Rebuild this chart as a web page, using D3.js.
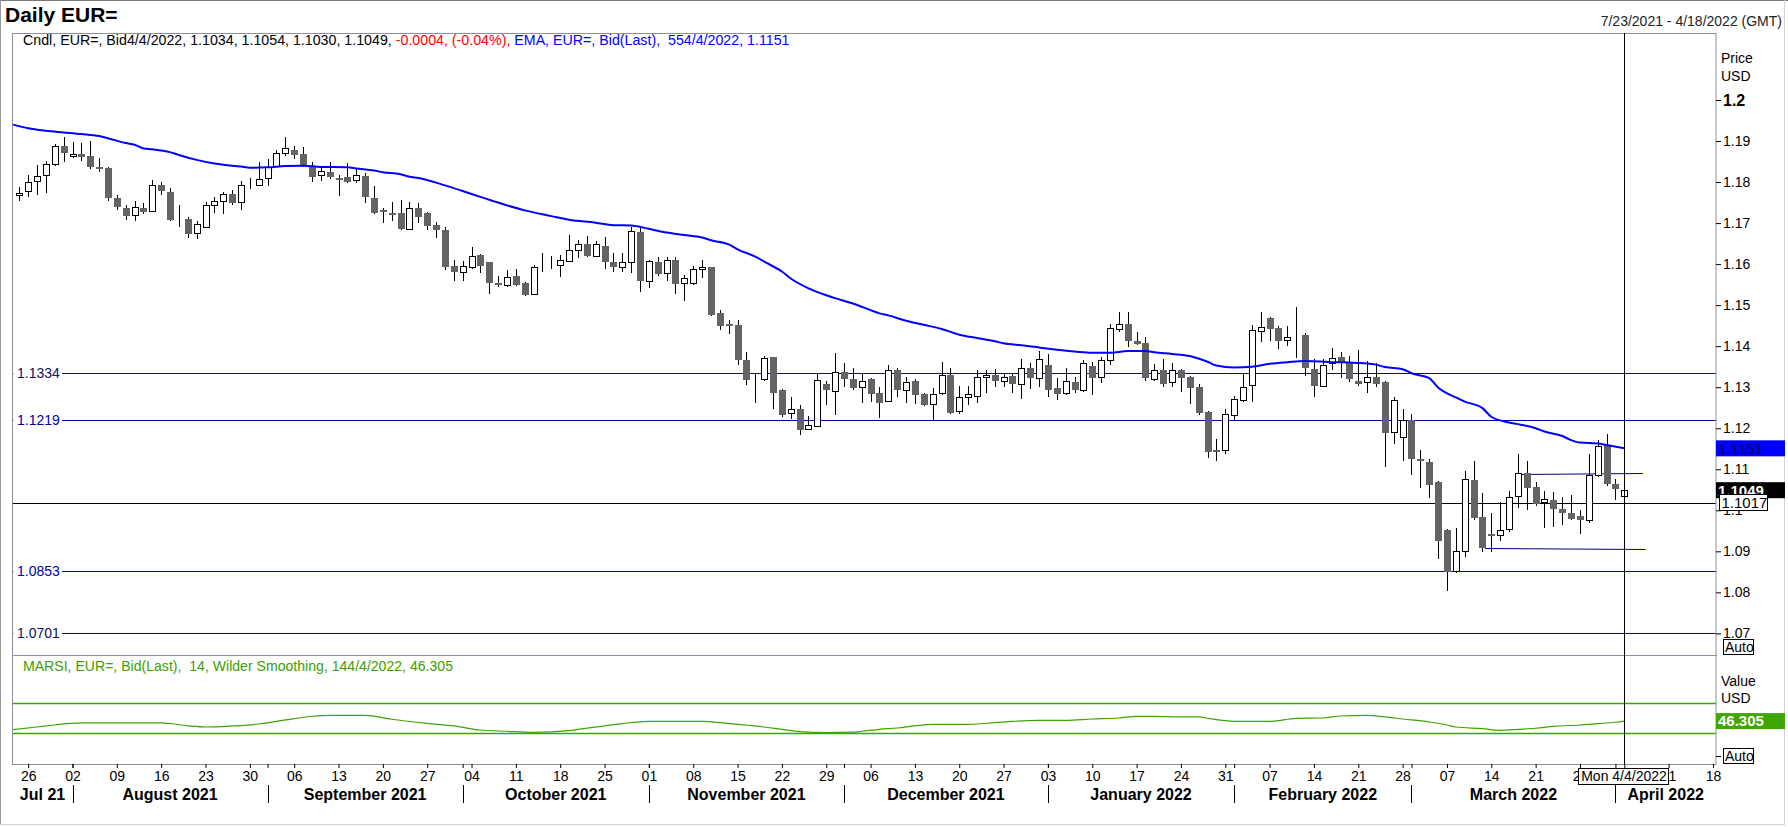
<!DOCTYPE html>
<html>
<head>
<meta charset="utf-8">
<script src="https://cdn.jsdelivr.net/npm/d3@7"></script>
<style>
  body { margin: 0; background: #fff; }
  text { font-family: "Liberation Sans", Arial, sans-serif; }
</style>
</head>
<body>
<div id="chart"></div>
<script>
// daily candles, EUR= bid, 23 Jul 2021 .. 4 Apr 2022 (one per weekday)
var opens = [
  1.1768,1.1778,1.1802,1.1816,1.1843,1.1888,1.1863,1.1868,1.1864,1.1836,
  1.1834,1.1760,1.1737,1.1719,1.1737,1.1729,1.1793,1.1776,1.1711,1.1710,
  1.1675,1.1691,1.1743,1.1754,1.1771,1.1751,1.1794,1.1794,1.1809,1.1839,
  1.1872,1.1878,1.1868,1.1836,1.1816,1.1825,1.1811,1.1812,1.1804,1.1815,
  1.1760,1.1732,1.1725,1.1725,1.1685,1.1737,1.1725,1.1695,1.1683,1.1595,
  1.1580,1.1592,1.1622,1.1604,1.1554,1.1548,1.1571,1.1554,1.1526,1.1593,
  1.1600,1.1597,1.1608,1.1634,1.1649,1.1621,1.1644,1.1606,1.1594,1.1604,
  1.1679,1.1558,1.1606,1.1578,1.1610,1.1553,1.1553,1.1587,1.1593,1.1481,
  1.1454,1.1452,1.1366,1.1319,1.1319,1.1373,1.1293,1.1236,1.1247,1.1197,
  1.1206,1.1309,1.1290,1.1337,1.1320,1.1300,1.1320,1.1286,1.1266,1.1342,
  1.1292,1.1315,1.1283,1.1258,1.1285,1.1329,1.1241,1.1275,1.1278,1.1324,
  1.1329,1.1316,1.1327,1.1309,1.1348,1.1322,1.1354,1.1298,1.1285,1.1313,
  1.1292,1.1351,1.1324,1.1366,1.1441,1.1454,1.1413,1.1407,1.1319,1.1341,
  1.1313,1.1341,1.1324,1.1300,1.1239,1.1146,1.1146,1.1232,1.1268,1.1305,
  1.1436,1.1469,1.1444,1.1414,1.1427,1.1427,1.1344,1.1304,1.1358,1.1373,
  1.1358,1.1315,1.1312,1.1324,1.1313,1.1190,1.1178,1.1220,1.1124,1.1118,
  1.1069,1.0952,1.0853,1.0900,1.1074,1.0984,1.0942,1.0939,1.0954,1.1034,
  1.1090,1.1057,1.1019,1.1024,1.1003,1.0993,1.0986,1.0977,1.1085,1.1159,1.1064,1.1034
];
var highs = [
  1.1787,1.1817,1.1842,1.1851,1.1892,1.1909,1.1897,1.1894,1.1899,1.1858,
  1.1836,1.1769,1.1744,1.1754,1.1748,1.1805,1.1801,1.1785,1.1743,1.1716,
  1.1704,1.1751,1.1764,1.1776,1.1781,1.1803,1.1809,1.1848,1.1855,1.1878,
  1.1909,1.1888,1.1885,1.1850,1.1840,1.1850,1.1817,1.1846,1.1832,1.1821,
  1.1790,1.1736,1.1751,1.1756,1.1751,1.1748,1.1728,1.1703,1.1690,1.1610,
  1.1608,1.1641,1.1625,1.1606,1.1571,1.1586,1.1587,1.1557,1.1598,1.1626,
  1.1620,1.1622,1.1671,1.1659,1.1669,1.1656,1.1665,1.1626,1.1626,1.1691,
  1.1687,1.1610,1.1617,1.1617,1.1617,1.1574,1.1595,1.1610,1.1594,1.1488,
  1.1464,1.1464,1.1387,1.1334,1.1377,1.1374,1.1295,1.1277,1.1257,1.1230,
  1.1334,1.1315,1.1384,1.1360,1.1348,1.1334,1.1322,1.1300,1.1354,1.1346,
  1.1324,1.1321,1.1285,1.1297,1.1361,1.1348,1.1302,1.1302,1.1342,1.1342,
  1.1344,1.1332,1.1334,1.1369,1.1360,1.1388,1.1381,1.1322,1.1346,1.1324,
  1.1366,1.1361,1.1374,1.1454,1.1483,1.1483,1.1434,1.1422,1.1357,1.1369,
  1.1358,1.1345,1.1328,1.1309,1.1243,1.1173,1.1246,1.1278,1.1334,1.1452,
  1.1483,1.1472,1.1449,1.1448,1.1495,1.1431,1.1368,1.1368,1.1395,1.1385,
  1.1376,1.1391,1.1365,1.1358,1.1315,1.1275,1.1246,1.1235,1.1147,1.1124,
  1.1071,1.0954,1.0957,1.1095,1.1119,1.1042,1.0993,1.1019,1.1047,1.1137,
  1.1120,1.1069,1.1047,1.1045,1.1033,1.1037,1.1001,1.1137,1.1171,1.1186,1.1076,1.1054
];
var lows = [
  1.1754,1.1763,1.1768,1.1773,1.1838,1.1850,1.1858,1.1852,1.1831,1.1825,
  1.1753,1.1733,1.1708,1.1704,1.1721,1.1726,1.1768,1.1706,1.1691,1.1664,
  1.1662,1.1690,1.1725,1.1723,1.1744,1.1733,1.1782,1.1793,1.1791,1.1836,
  1.1864,1.1855,1.1836,1.1799,1.1803,1.1807,1.1767,1.1797,1.1797,1.1750,
  1.1721,1.1699,1.1704,1.1682,1.1683,1.1699,1.1682,1.1664,1.1586,1.1560,
  1.1560,1.1587,1.1579,1.1526,1.1545,1.1545,1.1547,1.1522,1.1525,1.1581,
  1.1587,1.1569,1.1604,1.1616,1.1618,1.1618,1.1588,1.1582,1.1582,1.1579,
  1.1533,1.1543,1.1572,1.1559,1.1526,1.1511,1.1549,1.1566,1.1474,1.1439,
  1.1430,1.1353,1.1306,1.1262,1.1316,1.1247,1.1228,1.1223,1.1184,1.1196,
  1.1202,1.1257,1.1232,1.1301,1.1292,1.1262,1.1263,1.1226,1.1263,1.1277,
  1.1262,1.1258,1.1253,1.1220,1.1281,1.1234,1.1234,1.1257,1.1262,1.1287,
  1.1301,1.1301,1.1287,1.1272,1.1296,1.1300,1.1277,1.1270,1.1282,1.1287,
  1.1288,1.1282,1.1311,1.1353,1.1434,1.1397,1.1403,1.1314,1.1316,1.1301,
  1.1300,1.1289,1.1259,1.1232,1.1128,1.1119,1.1136,1.1220,1.1265,1.1265,
  1.1409,1.1413,1.1394,1.1401,1.1372,1.1328,1.1277,1.1300,1.1342,1.1322,
  1.1312,1.1303,1.1285,1.1300,1.1105,1.1162,1.1121,1.1086,1.1055,1.1031,
  1.0882,1.0804,1.0846,1.0887,1.0976,1.0899,1.0899,1.0924,1.0946,1.1006,
  1.1000,1.1011,1.0958,1.0960,1.0963,1.0976,1.0943,1.0968,1.1080,1.1058,1.1025,1.1030
];
var closes = [
  1.1773,1.1799,1.1814,1.1843,1.1887,1.1870,1.1868,1.1860,1.1836,1.1833,
  1.1760,1.1738,1.1718,1.1738,1.1728,1.1792,1.1777,1.1708,1.1711,1.1674,
  1.1697,1.1743,1.1754,1.1770,1.1750,1.1794,1.1794,1.1807,1.1836,1.1872,
  1.1882,1.1867,1.1842,1.1813,1.1826,1.1813,1.1808,1.1801,1.1816,1.1764,
  1.1725,1.1726,1.1724,1.1686,1.1736,1.1714,1.1694,1.1682,1.1594,1.1581,
  1.1595,1.1621,1.1596,1.1555,1.1551,1.1568,1.1550,1.1525,1.1592,1.1593,
  1.1600,1.1609,1.1634,1.1648,1.1621,1.1648,1.1606,1.1594,1.1604,1.1681,
  1.1560,1.1608,1.1577,1.1610,1.1552,1.1565,1.1587,1.1592,1.1476,1.1450,
  1.1451,1.1366,1.1318,1.1319,1.1371,1.1287,1.1233,1.1246,1.1196,1.1208,
  1.1317,1.1292,1.1336,1.1319,1.1299,1.1315,1.1284,1.1262,1.1341,1.1292,
  1.1312,1.1282,1.1257,1.1284,1.1329,1.1238,1.1275,1.1283,1.1324,1.1329,
  1.1316,1.1324,1.1309,1.1348,1.1322,1.1368,1.1294,1.1284,1.1314,1.1292,
  1.1358,1.1323,1.1366,1.1444,1.1454,1.1413,1.1406,1.1323,1.1341,1.1309,
  1.1341,1.1322,1.1299,1.1236,1.1143,1.1145,1.1234,1.1271,1.1301,1.1439,
  1.1446,1.1443,1.1413,1.1422,1.1427,1.1348,1.1304,1.1355,1.1372,1.1361,
  1.1321,1.1309,1.1324,1.1308,1.1189,1.1268,1.1220,1.1125,1.1121,1.1062,
  1.0926,1.0850,1.0900,1.1076,1.0982,1.0909,1.0941,1.0952,1.1032,1.1090,
  1.1055,1.1016,1.1027,1.1004,1.0994,1.0979,1.0977,1.1085,1.1156,1.1065,1.1053,1.1049
];

// 55-day EMA, [candle index, value]
var emaPoints = [
  [-0.7,1.1940],[1,1.1931],[3,1.1925],[5,1.1921],[7,1.1917],[9,1.1912],[10,1.1907],
  [12,1.1895],[13,1.1891],[14,1.1882],[15,1.1880],[17,1.1873],[18,1.1866],[20,1.1854],
  [22,1.1845],[23,1.1842],[25,1.1838],[26,1.1835],[28,1.1836],[30,1.1839],[32,1.1840],
  [34,1.1837],[37,1.1836],[38,1.1833],[40,1.1828],[41,1.1824],[43,1.1819],[44,1.1813],
  [45,1.1810],[48,1.1792],[51,1.1771],[54,1.1750],[57,1.1731],[60,1.1717],[62,1.1708],
  [65,1.1701],[67,1.1695],[69,1.1694],[71,1.1686],[73,1.1677],[75,1.1671],[77,1.1665],
  [78,1.1658],[80,1.1648],[81,1.1636],[83,1.1618],[84,1.1606],[86,1.1582],[87,1.1565],
  [89,1.1541],[91,1.1524],[92,1.1517],[94,1.1504],[96,1.1488],[97,1.1480],[98,1.1475],
  [100,1.1462],[102,1.1452],[104,1.1442],[106,1.1428],[108,1.1420],[110,1.1412],
  [111,1.1407],[113,1.1402],[115,1.1397],[117,1.1391],[119,1.1387],[121,1.1384],
  [123,1.1384],[125,1.1388],[127,1.1388],[128,1.1385],[130,1.1381],[132,1.1376],
  [134,1.1362],[135,1.1353],[137,1.1348],[139,1.1350],[141,1.1357],[143,1.1361],
  [145,1.1364],[148,1.1361],[150,1.1360],[152,1.1358],[153,1.1355],[154,1.1349],
  [156,1.1344],[157,1.1334],[159,1.1322],[160,1.1299],[162,1.1275],[163,1.1265],
  [165,1.1249],[166,1.1228],[168,1.1214],[169,1.1210],[171,1.1200],[172,1.1192],
  [174,1.1181],[175,1.1171],[176,1.1165],[178,1.1163],[179,1.1159],[181,1.1151]
];

// MARSI 14 (Wilder smoothing), [candle index, value]
var rsiPoints = [
  [-0.7,35.0],[2,38.4],[4,41.1],[7,43.8],[16,43.8],[19,40.0],[21,38.4],[24,39.8],
  [27,42.4],[30,47.8],[33,52.7],[35,54.0],[39,54.0],[42,48.7],[46,43.3],[49,39.8],
  [52,34.4],[55,32.7],[58,31.3],[62,33.5],[64,37.0],[66,39.8],[68,42.9],[71,46.0],
  [77,46.0],[80,42.9],[83,39.8],[86,35.3],[88,32.2],[91,30.9],[94,31.5],[95,32.7],
  [97,35.3],[99,37.1],[101,39.8],[103,42.0],[107,42.0],[110,44.2],[112,46.0],
  [115,47.3],[118,47.3],[121,49.1],[124,50.4],[126,52.7],[128,52.7],[131,51.8],
  [133,51.8],[134,50.0],[137,46.0],[141,46.0],[144,50.0],[147,50.4],[149,53.1],
  [152,54.0],[154,51.8],[156,49.1],[159,45.1],[161,41.1],[162,38.4],[165,36.2],
  [167,34.0],[169,35.3],[171,36.7],[173,39.3],[176,41.1],[178,42.9],[180,44.7],
  [181,46.305]
];

// horizontal price levels and their colours
var levels = [1.1334, 1.1219, 1.1017, 1.0853, 1.0701];
var levelColors = ["#101060", "#0000a8", "#000000", "#0000a8", "#101060"];
var levelLabels = [true, true, false, true, true];

// two short channel lines, [[index, price], [index, price]]
var channelLines = [
  [[169.4, 1.1089], [183.1, 1.1091]],
  [[165.3, 1.0907], [183.4, 1.0905]]
];

var priceTicks = [1.2, 1.19, 1.18, 1.17, 1.16, 1.15, 1.14, 1.13, 1.12, 1.11, 1.1, 1.09, 1.08, 1.07];
var rsiBands = [70, 30];

var svgWidth = 1788;
var svgHeight = 827;
var panel = { left: 12.5, right: 1716, top: 33, mid: 655, bottom: 764 };

// weekday calendar from first candle to the end of the axis (18 Apr 2022)
var days = d3.utcDays(new Date(Date.UTC(2021, 6, 23)), new Date(Date.UTC(2022, 3, 19)))
  .filter(d => d.getUTCDay() % 6 !== 0);
var lastIdx = opens.length - 1;

var svg = d3.select("#chart")
  .append("svg")
  .attr("width", svgWidth)
  .attr("height", svgHeight);

// outer frame
svg.append("line").attr("x1", 0).attr("x2", svgWidth).attr("y1", 0.5).attr("y2", 0.5).attr("stroke", "#7a7a7a");
svg.append("line").attr("x1", 0.5).attr("x2", 0.5).attr("y1", 0).attr("y2", 825).attr("stroke", "#9a9a9a");
svg.append("line").attr("x1", 1784.5).attr("x2", 1784.5).attr("y1", 0).attr("y2", 825).attr("stroke", "#d4d4d4");
svg.append("line").attr("x1", 0).attr("x2", 1785).attr("y1", 824.5).attr("y2", 824.5).attr("stroke", "#d4d4d4");

// scales
var x = d3.scaleLinear().domain([0, 181]).range([19.3, 1624.3]);
var y = d3.scaleLinear().domain([1.06473, 1.21633]).range([panel.mid, panel.top]);
var yRsi = d3.scaleLinear().domain([30, 70]).range([733.3, 703.3]);

var crisp = v => Math.round(v) + 0.5;

// shrink or grow a text's font so it spans the given width
function fitWidth(sel, width) {
  var fs = +sel.attr("font-size");
  var len = sel.node().getComputedTextLength();
  sel.attr("font-size", (fs * width / len).toFixed(2));
}

svg.append("clipPath").attr("id", "clipPrice")
  .append("rect").attr("x", panel.left).attr("y", panel.top)
  .attr("width", panel.right - panel.left).attr("height", panel.mid - panel.top);
svg.append("clipPath").attr("id", "clipRsi")
  .append("rect").attr("x", panel.left).attr("y", panel.mid)
  .attr("width", panel.right - panel.left).attr("height", panel.bottom - panel.mid);

// title row
svg.append("text").attr("x", 5).attr("y", 22)
  .attr("font-size", 21).attr("font-weight", "bold").text("Daily EUR=");
svg.append("text").attr("x", 1782).attr("y", 26).attr("text-anchor", "end")
  .attr("font-size", 14).attr("fill", "#222").text("7/23/2021 - 4/18/2022 (GMT)");

var priceG = svg.append("g").attr("clip-path", "url(#clipPrice)");

// price levels
levels.forEach(function(lv, k) {
  priceG.append("line")
    .attr("x1", panel.left).attr("x2", panel.right)
    .attr("y1", crisp(y(lv))).attr("y2", crisp(y(lv)))
    .attr("stroke", levelColors[k]).attr("stroke-width", 1);
});

channelLines.forEach(function(seg) {
  priceG.append("line")
    .attr("x1", x(seg[0][0])).attr("y1", crisp(y(seg[0][1])))
    .attr("x2", x(seg[1][0])).attr("y2", crisp(y(seg[1][1])))
    .attr("stroke", "#000080").attr("stroke-width", 1);
});

// candles
var candles = opens.map((o, i) => ({ i: i, o: o, h: highs[i], l: lows[i], c: closes[i] }));

priceG.selectAll("line.wick")
  .data(candles)
  .enter()
  .append("line")
  .attr("class", "wick")
  .attr("x1", d => Math.round(x(d.i)) + 0.5)
  .attr("x2", d => Math.round(x(d.i)) + 0.5)
  .attr("y1", d => Math.round(y(d.h)))
  .attr("y2", d => Math.round(y(d.l)))
  .attr("stroke", "#000")
  .attr("stroke-width", 1);

priceG.selectAll("rect.down")
  .data(candles.filter(d => d.c < d.o))
  .enter()
  .append("rect")
  .attr("class", "down")
  .attr("x", d => Math.round(x(d.i)) - 3)
  .attr("width", 7)
  .attr("y", d => Math.round(y(d.o)))
  .attr("height", d => Math.max(2, Math.round(y(d.c)) - Math.round(y(d.o))))
  .attr("fill", "#646464");

priceG.selectAll("rect.up")
  .data(candles.filter(d => d.c >= d.o))
  .enter()
  .append("rect")
  .attr("class", "up")
  .attr("x", d => Math.round(x(d.i)) - 2.5)
  .attr("width", 6)
  .attr("y", d => Math.round(y(d.c)) + 0.5)
  .attr("height", d => Math.max(0, Math.round(y(d.o)) - Math.round(y(d.c))))
  .attr("fill", "#fff")
  .attr("stroke", "#000")
  .attr("stroke-width", 1);

// EMA
priceG.append("path")
  .datum(emaPoints)
  .attr("fill", "none")
  .attr("stroke", "#0000ff")
  .attr("stroke-width", 2)
  .attr("d", d3.line().x(d => x(d[0])).y(d => y(d[1])).curve(d3.curveMonotoneX));

// level labels on the left, on a white patch over the line
levels.forEach(function(lv, k) {
  if (!levelLabels[k]) return;
  var t = svg.append("text").attr("x", 17).attr("y", y(lv)).attr("dy", "0.35em")
    .attr("font-size", 14).attr("fill", levelColors[k]).text(lv.toFixed(4));
  var bb = t.node().getBBox();
  svg.insert("rect", function() { return t.node(); })
    .attr("x", panel.left + 1).attr("y", bb.y)
    .attr("width", bb.x + bb.width + 2 - panel.left - 1).attr("height", bb.height)
    .attr("fill", "#fff");
});

// legend line
var legend = svg.append("text").attr("x", 23).attr("y", 45).attr("font-size", 14);
legend.append("tspan").attr("fill", "#000").text("Cndl, EUR=, Bid4/4/2022, 1.1034, 1.1054, 1.1030, 1.1049, ");
legend.append("tspan").attr("fill", "#ff0000").text("-0.0004, (-0.04%), ");
legend.append("tspan").attr("fill", "#0000ff").attr("xml:space", "preserve").text("EMA, EUR=, Bid(Last),  554/4/2022, 1.1151");
fitWidth(legend, 767);

// RSI panel
var rsiG = svg.append("g").attr("clip-path", "url(#clipRsi)");
rsiBands.forEach(function(b) {
  rsiG.append("line")
    .attr("x1", panel.left).attr("x2", panel.right)
    .attr("y1", crisp(yRsi(b))).attr("y2", crisp(yRsi(b)))
    .attr("stroke", "#3ca400").attr("stroke-width", 1.5);
});
rsiG.append("path")
  .datum(rsiPoints)
  .attr("fill", "none")
  .attr("stroke", "#3ca400")
  .attr("stroke-width", 1.2)
  .attr("d", d3.line().x(d => x(d[0])).y(d => yRsi(d[1])).curve(d3.curveMonotoneX));

var rsiTitle = svg.append("text").attr("x", 23).attr("y", 671).attr("font-size", 14).attr("fill", "#3ca000")
  .attr("xml:space", "preserve")
  .text("MARSI, EUR=, Bid(Last),  14, Wilder Smoothing, 144/4/2022, 46.305");
fitWidth(rsiTitle, 430);

// panel borders
svg.append("rect").attr("x", panel.left).attr("y", panel.top + 0.5)
  .attr("width", panel.right - panel.left).attr("height", panel.mid - panel.top)
  .attr("fill", "none").attr("stroke", "#8e8e9e");
svg.append("rect").attr("x", panel.left).attr("y", panel.mid + 0.5)
  .attr("width", panel.right - panel.left).attr("height", panel.bottom - panel.mid)
  .attr("fill", "none").attr("stroke", "#8e8e9e");

// cursor line on the last candle
svg.append("line")
  .attr("x1", Math.round(x(lastIdx)) + 0.5).attr("x2", Math.round(x(lastIdx)) + 0.5)
  .attr("y1", panel.top).attr("y2", panel.bottom)
  .attr("stroke", "#000").attr("stroke-width", 1);

// price axis on the right
var yAxis = d3.axisRight(y)
  .tickValues(priceTicks)
  .tickSize(5)
  .tickPadding(2)
  .tickFormat(d => String(+d.toFixed(2)));
var yAxisG = svg.append("g")
  .attr("transform", `translate(${panel.right}, 0)`)
  .call(yAxis);
yAxisG.select(".domain").remove();
yAxisG.selectAll("text").attr("font-size", 14).attr("font-family", "Liberation Sans, Arial, sans-serif").attr("fill", "#000");
yAxisG.selectAll(".tick").filter(d => d === 1.2).select("text").attr("font-size", 16).attr("font-weight", "bold");

svg.append("text").attr("x", 1721).attr("y", 63).attr("font-size", 14).text("Price");
svg.append("text").attr("x", 1721).attr("y", 81).attr("font-size", 14).text("USD");
svg.append("text").attr("x", 1721).attr("y", 686).attr("font-size", 14).text("Value");
svg.append("text").attr("x", 1721).attr("y", 703).attr("font-size", 14).text("USD");

function tag(yc, label, fill, stroke, color, bold, x0, w) {
  svg.append("rect").attr("x", x0).attr("y", yc - 8).attr("width", w).attr("height", 16)
    .attr("fill", fill).attr("stroke", stroke || "none");
  svg.append("text").attr("x", x0 + 2).attr("y", yc).attr("dy", "0.36em")
    .attr("font-size", 15).attr("font-weight", bold ? "bold" : "normal")
    .attr("fill", color).text(label);
}
var lastEma = emaPoints[emaPoints.length - 1][1];
var lastClose = closes[lastIdx];
var lastRsi = rsiPoints[rsiPoints.length - 1][1];
tag(y(lastEma), lastEma.toFixed(4), "#0000ff", null, "#000060", false, 1716, 69);
tag(y(lastClose), lastClose.toFixed(4), "#000", null, "#fff", true, 1716, 69);
tag(Math.round(y(levels[2])) - 0.5, levels[2].toFixed(4), "#fff", "#000", "#000", false, 1719.5, 48);
tag(yRsi(lastRsi), lastRsi.toFixed(3), "#3ea800", null, "#fff", true, 1716, 69);

function autoBox(yTop) {
  svg.append("rect").attr("x", 1723.5).attr("y", yTop + 0.5).attr("width", 30).attr("height", 15)
    .attr("fill", "#fff").attr("stroke", "#000");
  svg.append("text").attr("x", 1725).attr("y", yTop + 13).attr("font-size", 14).text("Auto");
}
autoBox(639);
autoBox(748);
svg.append("line").attr("x1", 1716).attr("x2", 1721).attr("y1", 756.5).attr("y2", 756.5).attr("stroke", "#000");

// date axis: day numbers on Mondays, month separators
var mondays = days.map((d, i) => i).filter(i => days[i].getUTCDay() === 1 && i !== lastIdx);
var monthStarts = days.map((d, i) => i)
  .filter(i => i > 0 && days[i].getUTCMonth() !== days[i - 1].getUTCMonth());

var dayAxis = d3.axisBottom(x)
  .tickValues(mondays)
  .tickSize(4)
  .tickPadding(3)
  .tickFormat(i => d3.utcFormat("%d")(days[i]));
var dayG = svg.append("g").attr("transform", `translate(0, ${panel.bottom})`).call(dayAxis);
dayG.select(".domain").remove();
dayG.selectAll("text").attr("font-size", 14).attr("font-family", "Liberation Sans, Arial, sans-serif").attr("fill", "#000");

var monthTickAxis = d3.axisBottom(x).tickValues(monthStarts.concat([lastIdx])).tickSize(4).tickFormat("");
var mtG = svg.append("g").attr("transform", `translate(0, ${panel.bottom})`).call(monthTickAxis);
mtG.select(".domain").remove();

svg.selectAll("line.sep")
  .data(monthStarts)
  .enter()
  .append("line")
  .attr("class", "sep")
  .attr("x1", i => Math.round(x(i)) + 0.5)
  .attr("x2", i => Math.round(x(i)) + 0.5)
  .attr("y1", 785).attr("y2", 803)
  .attr("stroke", "#000");

var bounds = [panel.left].concat(monthStarts.map(i => x(i)), [panel.right]);
var monthFirst = [0].concat(monthStarts);
svg.selectAll("text.month")
  .data(monthFirst)
  .enter()
  .append("text")
  .attr("class", "month")
  .attr("x", (i, k) => (bounds[k] + bounds[k + 1]) / 2)
  .attr("y", 800)
  .attr("text-anchor", "middle")
  .attr("font-size", 16)
  .attr("font-weight", "bold")
  .text((i, k) => k === 0 ? d3.utcFormat("%b %y")(days[i]) : d3.utcFormat("%B %Y")(days[i]));

// cursor date box
var cx = Math.round(x(lastIdx));
svg.append("rect").attr("x", cx - 45.5).attr("y", 768.5).attr("width", 90).attr("height", 16)
  .attr("fill", "#fff").attr("stroke", "#000");
svg.append("text").attr("x", cx).attr("y", 781).attr("text-anchor", "middle").attr("font-size", 14)
  .text(d3.utcFormat("Mon %-m/%-d/%Y")(days[lastIdx]));
</script>
</body>
</html>
